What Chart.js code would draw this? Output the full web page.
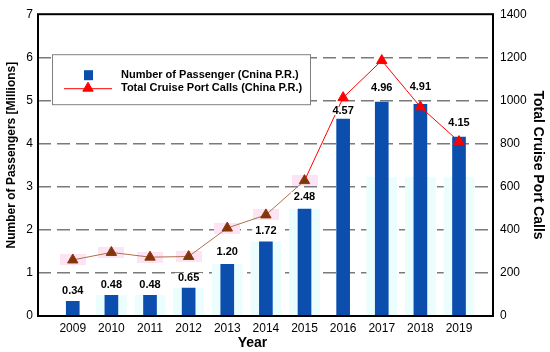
<!DOCTYPE html>
<html>
<head>
<meta charset="utf-8">
<script src="https://cdn.jsdelivr.net/npm/chart.js@4.4.1/dist/chart.umd.min.js"></script>
<style>
  html, body { margin: 0; padding: 0; background: #fff; }
</style>
</head>
<body>
<canvas id="cruiseChart" width="550" height="352"></canvas>
<script>
// data
const years = [2009, 2010, 2011, 2012, 2013, 2014, 2015, 2016, 2017, 2018, 2019];
const passengers = [0.34, 0.48, 0.48, 0.65, 1.20, 1.72, 2.48, 4.57, 4.96, 4.91, 4.15];
const portCalls = [260, 295, 273, 276, 408, 469, 628, 1013, 1185, 970, 809];
// faint cyan shadows behind the bars in the original image
const ghostBars = [0, 0.48, 0.48, 0.65, 1.20, 1.72, 2.48, 0, 3.22, 3.22, 3.22];
// how far each value label sits above its bar (px)
const labelRaise = [11, 11, 11, 11, 13, 11, 13, 8, 15, 18, 15];

const passengerLabel = 'Number of Passenger (Cnina P.R.)';
const callsLabel = 'Total Cruise Port Calls (China P.R.)';
const leftTitle = 'Number of Passengers [Millions]';
const xTitle = 'Year';

const BLUE = '#0b4eae';
const RED = '#ff0000';
const BROWN = '#7a3a08';
const BROWN_LINE = '#b0704a';
const FONT = "'Liberation Sans', Arial, sans-serif";

Chart.defaults.font.family = FONT;
Chart.defaults.color = '#000';

// pink patch drawn behind the early triangles
const pinkPatch = document.createElement('canvas');
pinkPatch.width = 26;
pinkPatch.height = 11;
const pctx = pinkPatch.getContext('2d');
pctx.fillStyle = '#fce4f5';
pctx.fillRect(0, 0, 26, 11);

const pts = (vals) => years.map((y, i) => ({ x: y, y: vals[i] }));
const isEarly = (c) => c.raw && c.raw.x <= 2015;

const framePlugin = {
  id: 'frame',
  afterDatasetsDraw(chart) {
    const { ctx, chartArea: a } = chart;
    ctx.save();
    ctx.strokeStyle = '#000';
    ctx.lineWidth = 2;
    ctx.strokeRect(a.left, a.top, a.right - a.left, a.bottom - a.top);
    ctx.restore();
  }
};

// axis titles that sit a little off-centre in the original
const sideTitles = {
  id: 'sideTitles',
  afterDraw(chart) {
    const { ctx, chartArea: a } = chart;
    ctx.save();
    ctx.fillStyle = '#000';
    ctx.textAlign = 'center';
    ctx.textBaseline = 'middle';
    ctx.font = 'bold 12px ' + FONT;
    ctx.translate(12, (a.top + a.bottom) / 2 - 10);
    ctx.rotate(-Math.PI / 2);
    ctx.fillText(leftTitle, 0, 0);
    ctx.restore();

    ctx.save();
    ctx.fillStyle = '#000';
    ctx.textAlign = 'center';
    ctx.textBaseline = 'middle';
    ctx.font = 'bold 14px ' + FONT;
    ctx.fillText(xTitle, (a.left + a.right) / 2 - 13, a.bottom + 27);
    ctx.restore();
  }
};

const valueLabels = {
  id: 'valueLabels',
  afterDatasetsDraw(chart) {
    const { ctx } = chart;
    const meta = chart.getDatasetMeta(1);
    ctx.save();
    ctx.font = 'bold 11px ' + FONT;
    ctx.textAlign = 'center';
    ctx.textBaseline = 'middle';
    meta.data.forEach((bar, i) => {
      const txt = passengers[i].toFixed(2);
      const y = bar.y - labelRaise[i];
      const w = ctx.measureText(txt).width;
      ctx.fillStyle = '#fff';
      ctx.fillRect(bar.x - w / 2 - 3, y - 4, w + 6, 8);
      ctx.fillStyle = '#000';
      ctx.fillText(txt, bar.x, y + 0.5);
    });
    ctx.restore();
  }
};

const boxLegend = {
  id: 'boxLegend',
  afterDraw(chart) {
    const { ctx, chartArea: a } = chart;
    const x0 = a.left + 14, y0 = a.top + 40;
    ctx.save();
    ctx.fillStyle = '#fff';
    ctx.fillRect(x0, y0, 259, 51);
    ctx.strokeStyle = '#808080';
    ctx.lineWidth = 1;
    ctx.strokeRect(x0 + 0.5, y0 + 0.5, 258, 50);

    ctx.fillStyle = BLUE;
    ctx.fillRect(x0 + 32, y0 + 16, 9, 10);

    ctx.strokeStyle = RED;
    ctx.beginPath();
    ctx.moveTo(x0 + 12, y0 + 34.5);
    ctx.lineTo(x0 + 60, y0 + 34.5);
    ctx.stroke();
    ctx.fillStyle = RED;
    Chart.helpers.drawPoint(ctx, { pointStyle: 'triangle', radius: 6, borderWidth: 1 }, x0 + 36, y0 + 34);

    ctx.fillStyle = '#000';
    ctx.font = 'bold 11px ' + FONT;
    ctx.textAlign = 'left';
    ctx.textBaseline = 'middle';
    ctx.fillText(passengerLabel, x0 + 69, y0 + 21);
    ctx.fillText(callsLabel, x0 + 69, y0 + 34);
    ctx.restore();
  }
};

new Chart(document.getElementById('cruiseChart').getContext('2d'), {
  type: 'bar',
  data: {
    datasets: [
      {
        label: 'ghost',
        data: pts(ghostBars),
        backgroundColor: '#ebfdfd',
        barThickness: 30,
        grouped: false,
        yAxisID: 'y',
        order: 4
      },
      {
        label: passengerLabel,
        data: pts(passengers),
        backgroundColor: BLUE,
        barThickness: 13,
        grouped: false,
        yAxisID: 'y',
        order: 3
      },
      {
        type: 'line',
        label: 'patch',
        data: pts(portCalls).filter(p => p.x <= 2015),
        showLine: false,
        pointStyle: pinkPatch,
        yAxisID: 'y1',
        order: 2
      },
      {
        type: 'line',
        label: callsLabel,
        data: pts(portCalls),
        borderWidth: 1,
        borderColor: RED,
        segment: {
          borderColor: c => c.p1.parsed.x <= 2015 ? BROWN_LINE : RED
        },
        pointStyle: 'triangle',
        pointRadius: 6,
        pointBorderWidth: 1,
        pointBackgroundColor: c => isEarly(c) ? BROWN : RED,
        pointBorderColor: c => isEarly(c) ? '#a02a10' : RED,
        yAxisID: 'y1',
        order: 1
      }
    ]
  },
  options: {
    responsive: false,
    animation: false,
    devicePixelRatio: 1,
    layout: { padding: { top: 11 } },
    plugins: {
      legend: { display: false },
      tooltip: { enabled: false }
    },
    scales: {
      x: {
        type: 'linear',
        min: 2008.1,
        max: 2019.88,
        offset: false,
        grid: { display: false, drawTicks: false, offset: false },
        border: { display: false },
        ticks: {
          stepSize: 1,
          includeBounds: false,
          autoSkip: false,
          maxRotation: 0,
          padding: 5,
          font: { size: 12 },
          callback: v => String(v)
        },
        afterFit: s => { s.height = 36; }
      },
      y: {
        position: 'left',
        min: 0,
        max: 7,
        ticks: { stepSize: 1, padding: 5, font: { size: 12 } },
        grid: {
          drawTicks: false,
          lineWidth: 1.5,
          color: c => (c.tick.value === 0 || c.tick.value === 7) ? 'rgba(0,0,0,0)' : '#7a7a7a'
        },
        border: { display: false, dash: [13, 6] },
        afterFit: s => { s.width = 38; }
      },
      y1: {
        position: 'right',
        min: 0,
        max: 1400,
        ticks: { stepSize: 200, padding: 7, font: { size: 12 }, callback: v => String(v) },
        grid: { display: false, drawTicks: false },
        border: { display: false },
        title: {
          display: true,
          text: 'Total Cruise Port Calls',
          font: { size: 14, weight: 'bold' },
          padding: { top: 4, bottom: 4 }
        },
        afterFit: s => { s.width = 57; }
      }
    }
  },
  plugins: [framePlugin, valueLabels, sideTitles, boxLegend]
});
</script>
</body>
</html>
